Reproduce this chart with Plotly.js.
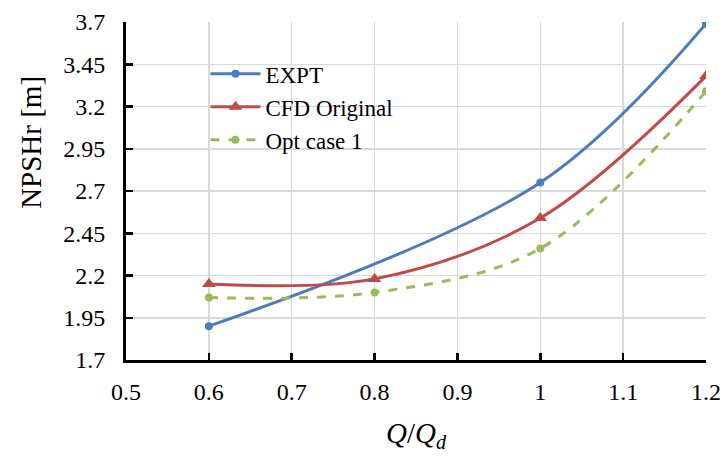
<!DOCTYPE html>
<html>
<head>
<meta charset="utf-8">
<script src="https://cdn.plot.ly/plotly-3.0.1.min.js"></script>
<style>
  html, body { margin: 0; padding: 0; background: #fff; }
  #chart { width: 727px; height: 456px; }
</style>
</head>
<body>
<div id="chart"></div>
<script>
// Flow ratio Q/Qd for each series
const exptFlow = [0.6, 1.0, 1.2];
const cfdFlow = [0.6, 0.8, 1.0, 1.2];

// NPSHr values [m]
const expt = [1.90, 2.75, 3.69];
const cfdOriginal = [2.15, 2.18, 2.54, 3.38];
const optCase1 = [2.07, 2.10, 2.36, 3.29];

// Axis ticks
const yTicks = [1.7, 1.95, 2.2, 2.45, 2.7, 2.95, 3.2, 3.45, 3.7];
const yTickText = ['1.7', '1.95', '2.2', '2.45', '2.7', '2.95', '3.2', '3.45', '3.7'];
const xTicks = [0.5, 0.6, 0.7, 0.8, 0.9, 1.0, 1.1, 1.2];
const xTickText = ['0.5', '0.6', '0.7', '0.8', '0.9', '1', '1.1', '1.2'];

const FONT = 'Liberation Serif, Times New Roman, serif';

const traces = [
  {
    x: exptFlow, y: expt, name: 'EXPT',
    mode: 'lines+markers', type: 'scatter',
    line: { color: '#4a7ebb', width: 3, shape: 'spline', smoothing: 1 },
    marker: { symbol: 'circle', size: 8, color: '#4a7ebb' }
  },
  {
    x: cfdFlow, y: cfdOriginal, name: 'CFD Original',
    mode: 'lines+markers', type: 'scatter',
    line: { color: '#be4b48', width: 3, shape: 'spline', smoothing: 1 },
    marker: { symbol: 'triangle-up', size: 12, color: '#be4b48' }
  },
  {
    x: cfdFlow, y: optCase1, name: 'Opt case 1',
    mode: 'lines+markers', type: 'scatter',
    line: { color: '#9bbb59', width: 3, dash: 'dash', shape: 'spline', smoothing: 1 },
    marker: { symbol: 'circle', size: 8, color: '#9bbb59' }
  }
];

const layout = {
  width: 727, height: 456,
  margin: { l: 126, r: 21, t: 22, b: 96 },
  paper_bgcolor: '#ffffff', plot_bgcolor: '#ffffff',
  font: { family: FONT, size: 24, color: '#000' },
  showlegend: true,
  legend: {
    x: 0.137, y: 0.91, xanchor: 'left', yanchor: 'top',
    bgcolor: 'rgba(255,255,255,0)',
    font: { family: FONT, size: 23, color: '#000' },
    tracegroupgap: 0, itemwidth: 50
  },
  xaxis: {
    range: [0.5, 1.2],
    tickmode: 'array', tickvals: xTicks, ticktext: xTickText,
    showgrid: true, gridcolor: '#d9d9d9', gridwidth: 1.5,
    showline: true, linecolor: '#000', linewidth: 3,
    ticks: 'inside', ticklen: 7, tickwidth: 2.5, tickcolor: '#000',
    ticklabelstandoff: 8,
    zeroline: false,
    tickfont: { family: FONT, size: 24, color: '#000' },
    title: { text: '<i>Q</i>/<i>Q</i><sub><i>d</i></sub>', font: { family: FONT, size: 29, color: '#000' }, standoff: 19 }
  },
  yaxis: {
    range: [1.7, 3.7],
    tickmode: 'array', tickvals: yTicks, ticktext: yTickText,
    showgrid: true, gridcolor: '#d9d9d9', gridwidth: 1.5,
    showline: true, linecolor: '#000', linewidth: 3,
    ticks: 'inside', ticklen: 7, tickwidth: 2.5, tickcolor: '#000',
    ticklabelstandoff: 13,
    zeroline: false,
    tickfont: { family: FONT, size: 24, color: '#000' }
  },
  annotations: [
    {
      text: 'NPSHr [m]', xref: 'paper', yref: 'paper',
      x: -0.164, y: 0.645, xanchor: 'center', yanchor: 'middle',
      textangle: -90, showarrow: false,
      font: { family: FONT, size: 29, color: '#000' }
    }
  ]
};

Plotly.newPlot('chart', traces, layout, { staticPlot: true, displayModeBar: false });
</script>
</body>
</html>
